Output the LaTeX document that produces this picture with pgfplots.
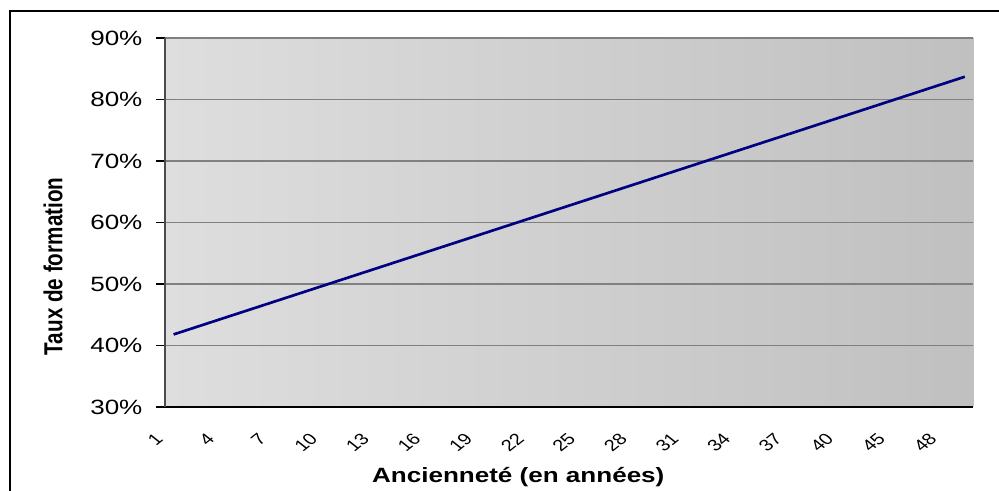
\documentclass[border=0pt]{standalone}
\usepackage{pgfplots}
\pgfplotsset{compat=1.18}
\usepackage{fontspec}
\setmainfont{Liberation Sans}
\usepackage{graphicx}
\newcommand\xl[1]{\scalebox{1.26}[1]{\rotatebox{45}{\fontsize{12}{14}\selectfont #1}}}
\definecolor{gridc}{RGB}{128,128,128}
\definecolor{bgl}{RGB}{222,222,222}
\definecolor{bgr}{RGB}{192,192,192}
\definecolor{navyl}{RGB}{0,0,128}
\begin{document}
\begin{tikzpicture}
\useasboundingbox (0pt,0pt) rectangle (749.25pt,368.25pt);
\draw[line width=1.5pt] (7.5pt,-30pt) rectangle (790pt,360.2pt);
\begin{axis}[
  at={(123.75pt,63pt)}, anchor=south west,
  scale only axis, width=606.3pt, height=276.75pt,
  xmin=-0.5, xmax=46.5, ymin=30, ymax=90,
  axis lines=left, axis line style={-, line width=0.8pt},
  x axis line style={black}, y axis line style={black!70},
  axis background/.style={left color=bgl, right color=bgr},
  font=\fontsize{15.5}{18}\selectfont,
  /pgf/number format/assume math mode=true,
  tick align=outside,
  xtick={0,3,6,9,12,15,18,21,24,27,30,33,36,39,42,45},
  xticklabels={\xl{1},\xl{4},\xl{7},\xl{10},\xl{13},\xl{16},\xl{19},\xl{22},\xl{25},\xl{28},\xl{31},\xl{34},\xl{37},\xl{40},\xl{45},\xl{48}},
  x tick style={draw=none},
  minor xtick={-0.5,0.5,...,46.5},
  minor x tick style={black, line width=0.8pt},
  minor tick length=3.75pt,
  x tick label style={anchor=north east, inner sep=0pt, xshift=-7pt, yshift=-12pt},
  ytick={30,40,50,60,70,80,90},
  yticklabel={\scalebox{1.26}[1]{\pgfmathprintnumber{\tick}\%}},
  y tick style={black, line width=0.8pt},
  major tick length=6.75pt,
  y tick label style={inner sep=0pt, xshift=-10pt},
  ymajorgrids, grid style={gridc, line width=0.8pt},
  xlabel={\scalebox{1.26}[1]{\bfseries Ancienneté (en années)}},
  xlabel style={at={(axis description cs:0.437,0)}, anchor=base, yshift=-57pt},
  ylabel={\scalebox{1}[1.26]{\bfseries Taux de formation}},
  ylabel style={at={(axis description cs:-0.1385,0.381)}, anchor=center, rotate=0},
  clip=false,
]
\addplot[navyl, line width=2pt] coordinates {
(0,41.800) (1,42.711) (2,43.622) (3,44.533) (4,45.443) (5,46.354) (6,47.265) (7,48.176)
(8,49.087) (9,49.998) (10,50.909) (11,51.820) (12,52.730) (13,53.641) (14,54.552) (15,55.463)
(16,56.374) (17,57.285) (18,58.196) (19,59.107) (20,60.017) (21,60.928) (22,61.839) (23,62.750)
(24,63.661) (25,64.572) (26,65.483) (27,66.393) (28,67.304) (29,68.215) (30,69.126) (31,70.037)
(32,70.948) (33,71.859) (34,72.770) (35,73.680) (36,74.591) (37,75.502) (38,76.413) (39,77.324)
(40,78.235) (41,79.146) (42,80.057) (43,80.967) (44,81.878) (45,82.789) (46,83.700)
};
\end{axis}
\end{tikzpicture}
\end{document}
